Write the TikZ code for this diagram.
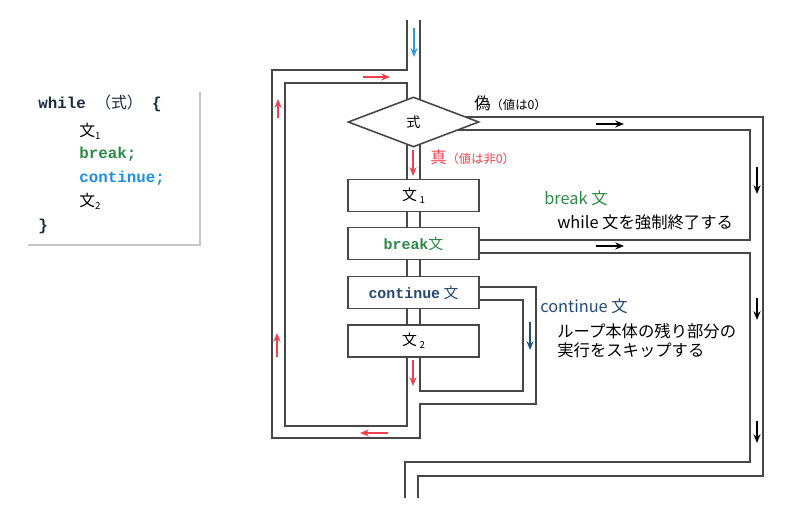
\documentclass[tikz,border=0pt]{standalone}
\usepackage{fontspec}
\setmainfont{Noto Sans CJK JP}
\newfontfamily\codefont{Liberation Mono}
\usetikzlibrary{shapes.geometric,arrows.meta}

\definecolor{wallgray}{HTML}{474747}
\definecolor{flowred}{HTML}{F2404E}
\definecolor{brkgreen}{HTML}{2C8A47}
\definecolor{contblue}{HTML}{264A73}
\definecolor{inblue}{HTML}{2A9DE0}
\definecolor{codenavy}{HTML}{1B2A3C}
\definecolor{contsky}{HTML}{1C8FE6}
\definecolor{skipteal}{HTML}{1F5577}

\newcommand{\lowidx}[1]{\raisebox{-0.35ex}{\fontsize{5.5}{6}\selectfont #1}}

\tikzset{
  wall/.style={draw=wallgray, line width=0.9pt},
  stmt/.style={draw=wallgray, line width=1.1pt, fill=white, minimum width=2.62cm,
    minimum height=0.64cm, inner sep=0pt, font=\fontsize{8.5}{10}\selectfont},
  cond/.style={diamond, draw=wallgray, line width=0.9pt, fill=white, minimum width=2.62cm,
    minimum height=1cm, inner sep=0pt, font=\fontsize{8}{10}\selectfont},
  flow/.style={-{Stealth[length=5pt,width=4pt]}, line width=0.8pt},
  note/.style={anchor=west, inner sep=0pt, font=\fontsize{9.3}{11}\selectfont},
  codeline/.style={anchor=west, inner sep=0pt, font=\fontsize{9}{11}\codefont\bfseries},
}

\begin{document}
\begin{tikzpicture}[x=0.02cm,y=-0.02cm]
\useasboundingbox (0,0) rectangle (786,513);

\draw[gray!45, line width=1.6pt] (28,245) -- (200,245) -- (200,92);
\node[codeline, codenavy] (cwhile) at (38,103) {while {\rmfamily\mdseries（式）} \{};
\node[codeline] (cs1) at (79,131) {\rmfamily\mdseries 文\lowidx{1}};
\node[codeline, brkgreen] (cbrk) at (79,154) {break;};
\node[codeline, contsky] (ccont) at (79,178) {continue;};
\node[codeline] (cs2) at (79,201) {\rmfamily\mdseries 文\lowidx{2}};
\node[codeline, codenavy] (cend) at (38,226) {\}};

\draw[wall] (407,20) -- (407,70) -- (272,70) -- (272,438) -- (420,438) -- (420,404)
  -- (536,404) -- (536,287) -- (479,287);
\draw[wall] (407,99.5) -- (407,83) -- (285,83) -- (285,426) -- (407,426) -- (407,357);
\draw[wall] (420,20) -- (420,99.5);
\foreach \ya/\yb in {144.5/179, 212/228, 259/277, 308/325}
  \draw[wall] (407,\ya) -- (407,\yb) (420,\ya) -- (420,\yb);
\draw[wall] (420,357) -- (420,391) -- (523,391) -- (523,300) -- (479,300);

\draw[wall] (466,117) -- (763,117) -- (763,476) -- (418,476) -- (418,498);
\draw[wall] (458,130) -- (750,130) -- (750,240) -- (479,240);
\draw[wall] (479,253) -- (750,253) -- (750,462) -- (405,462) -- (405,498);

\node[cond] (cond) at (413.5,122) {式};
\node[stmt] (s1) at (413.5,195.5) {文\,\lowidx{1}};
\node[stmt] (brk) at (413.5,243.5) {\color{brkgreen}{\codefont\bfseries break}文};
\node[stmt] (cont) at (413.5,292.5) {\color{contblue}{\codefont\bfseries continue} 文};
\node[stmt] (s2) at (413.5,341) {文\,\lowidx{2}};

\draw[flow, inblue] (414,28) -- (414,57);
\draw[flow, flowred] (363,77) -- (390,77);
\draw[flow, flowred] (278,118) -- (278,99);
\draw[flow, flowred] (277,357) -- (277,333);
\draw[flow, flowred] (413,150) -- (413,176);
\draw[flow, flowred] (413,360) -- (413,386);
\draw[flow, flowred] (388,433) -- (360,433);
\draw[flow, skipteal] (530,322) -- (530,350);
\draw[flow] (596,124) -- (624,124);
\draw[flow] (596,246) -- (624,246);
\draw[flow] (757,167) -- (757,194);
\draw[flow] (757,298) -- (757,320);
\draw[flow] (757,421) -- (757,443);

\node[note] (lfalse) at (474,103) {偽{\fontsize{7}{8}\selectfont（値は0）}};
\node[note, flowred] (ltrue) at (430,157) {真{\fontsize{7}{8}\selectfont（値は非0）}};
\node[note, brkgreen] (lbrk) at (544,198) {break 文};
\node[note] (lbrkdesc) at (557,222) {while 文を強制終了する};
\node[note, contblue] (lcont) at (540,306) {continue 文};
\node[note] (lcontdesc1) at (557,331) {ループ本体の残り部分の};
\node[note] (lcontdesc2) at (557,350) {実行をスキップする};
\end{tikzpicture}
\end{document}
